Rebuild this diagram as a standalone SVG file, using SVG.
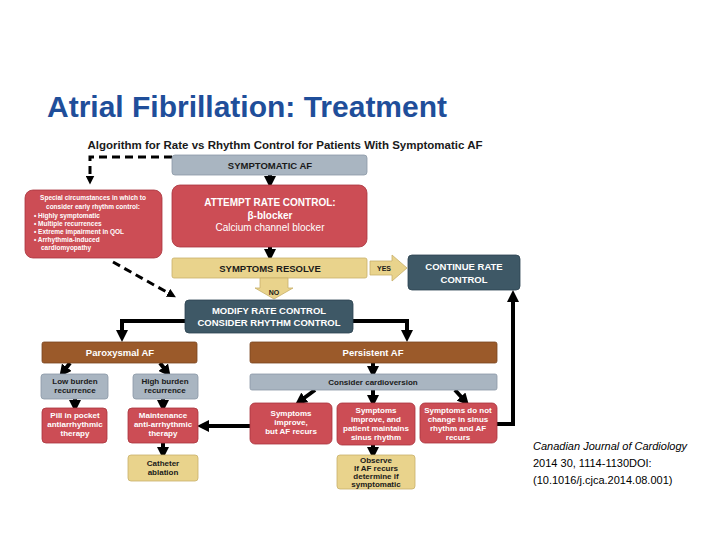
<svg xmlns="http://www.w3.org/2000/svg" width="720" height="540" viewBox="0 0 720 540">
<defs>
<marker id="ah" viewBox="0 0 10 10" refX="5" refY="5" markerWidth="3" markerHeight="3" orient="auto"><path d="M0,0 L10,5 L0,10 z" fill="#000"/></marker>
<style>
text{font-family:"Liberation Sans",Arial,sans-serif;font-weight:bold;text-anchor:middle}
.g{fill:#a9b5c1;stroke:#8a98a6;stroke-width:0.8}
.r{fill:#cc4d55;stroke:#a8343c;stroke-width:0.8}
.y{fill:#e9d38c;stroke:#c8b06a;stroke-width:0.8}
.d{fill:#3e5866;stroke:#2c4250;stroke-width:0.8}
.b{fill:#9b5a2a;stroke:#7a4520;stroke-width:0.8}
.w{fill:#fff}
.k{fill:#1a1a1a}
.s{font-size:8px}
.m{font-size:9.5px}
.ln{stroke:#000;stroke-width:4;fill:none}
.ds{stroke:#000;stroke-width:3;fill:none;stroke-dasharray:8,5}
</style>
</defs>
<rect width="720" height="540" fill="#fff"/>
<text x="47" y="117" style="font-size:30px;text-anchor:start;fill:#1f4e9a">Atrial Fibrillation: Treatment</text>
<text x="285" y="149" style="font-size:11.5px" class="k">Algorithm for Rate vs Rhythm Control for Patients With Symptomatic AF</text>
<g id="connectors">
<path class="ds" d="M172,157 H90 V180" marker-end="url(#ah)"/>
<path class="ds" d="M113,262 L172,295" marker-end="url(#ah)"/>
<path class="ln" d="M270,175 V182" marker-end="url(#ah)"/>
<path class="ln" d="M270,247 V255" marker-end="url(#ah)"/>
<path class="ln" d="M185,321 H122 V336" marker-end="url(#ah)"/>
<path class="ln" d="M353,321 H407 V336" marker-end="url(#ah)"/>
<path class="ln" d="M70,363 L63,372" marker-end="url(#ah)"/>
<path class="ln" d="M160,363 L167,372" marker-end="url(#ah)"/>
<path class="ln" d="M373,363 V372" marker-end="url(#ah)"/>
<path class="ln" d="M75,399 V406" marker-end="url(#ah)"/>
<path class="ln" d="M163,399 V406" marker-end="url(#ah)"/>
<path class="ln" d="M163,443 V453" marker-end="url(#ah)"/>
<path class="ln" d="M315,390 L300,401" marker-end="url(#ah)"/>
<path class="ln" d="M373,390 V401" marker-end="url(#ah)"/>
<path class="ln" d="M455,390 L465,401" marker-end="url(#ah)"/>
<path class="ln" d="M373,445 V453" marker-end="url(#ah)"/>
<path class="ln" d="M250,426 H203" marker-end="url(#ah)"/>
<path class="ln" d="M497,424 H513 V296" marker-end="url(#ah)"/>
</g>
<g id="n-sympaf"><rect class="g" x="172" y="155" width="195" height="20" rx="3"/><text x="270" y="169" class="m" fill="#1a1a1a">SYMPTOMATIC AF</text></g>
<g id="n-attempt"><rect class="r" x="172" y="185" width="195" height="62" rx="8"/><text x="270" y="206" class="w" style="font-size:10px">ATTEMPT RATE CONTROL:</text><text x="270" y="219" class="w" style="font-size:10px">β-blocker</text><text x="270" y="231" class="w" style="font-size:10px;font-weight:normal">Calcium channel blocker</text></g>
<g id="n-special"><rect class="r" x="25" y="190" width="137" height="68" rx="8"/>
<text x="93" y="200" class="w" style="font-size:6.5px">Special circumstances in which to</text>
<text x="93" y="209" class="w" style="font-size:6.5px">consider early rhythm control:</text>
<g style="font-size:6.5px;text-anchor:start" class="w">
<text x="34" y="218" style="text-anchor:start">•  Highly symptomatic</text>
<text x="34" y="226" style="text-anchor:start">•  Multiple recurrences</text>
<text x="34" y="234" style="text-anchor:start">•  Extreme impairment in QOL</text>
<text x="34" y="242" style="text-anchor:start">•  Arrhythmia-induced</text>
<text x="41" y="250" style="text-anchor:start">cardiomyopathy</text></g></g>
<g id="n-resolve"><rect class="y" x="172" y="258" width="195" height="20" rx="2"/><text x="270" y="272" class="m k">SYMPTOMS RESOLVE</text></g>
<g id="n-yes"><path class="y" d="M370,261 H392 V255 L407,268 L392,281 V275 H370 Z"/><text x="384" y="271" class="k" style="font-size:7px">YES</text></g>
<g id="n-continue"><rect class="d" x="408" y="255" width="112" height="35" rx="4"/><text x="464" y="270" class="w m">CONTINUE RATE</text><text x="464" y="283" class="w m">CONTROL</text></g>
<g id="n-no"><path class="y" d="M260,278 H288 V288 H293 L274,299 L255,288 H260 Z"/><text x="274" y="295" class="k" style="font-size:7px">NO</text></g>
<g id="n-modify"><rect class="d" x="185" y="300" width="168" height="33" rx="4"/><text x="269" y="314" class="w m">MODIFY RATE CONTROL</text><text x="269" y="326" class="w m">CONSIDER RHYTHM CONTROL</text></g>
<g id="n-parox"><rect class="b" x="42" y="342" width="155" height="21" rx="2"/><text x="120" y="356" class="w m">Paroxysmal AF</text></g>
<g id="n-persist"><rect class="b" x="250" y="342" width="247" height="21" rx="2"/><text x="373" y="356" class="w m">Persistent AF</text></g>
<g id="n-low"><rect class="g" x="41" y="374" width="67" height="25" rx="3"/><text x="75" y="384" class="k s">Low burden</text><text x="75" y="393" class="k s">recurrence</text></g>
<g id="n-high"><rect class="g" x="133" y="374" width="65" height="25" rx="3"/><text x="165" y="384" class="k s">High burden</text><text x="165" y="393" class="k s">recurrence</text></g>
<g id="n-cardio"><rect class="g" x="250" y="374" width="247" height="16" rx="2"/><text x="373" y="385" class="k s">Consider cardioversion</text></g>
<g id="n-pill"><rect class="r" x="42" y="408" width="65" height="35" rx="4"/><text x="75" y="418" class="w s">Pill in pocket</text><text x="75" y="427" class="w s">antiarrhythmic</text><text x="75" y="436" class="w s">therapy</text></g>
<g id="n-maint"><rect class="r" x="128" y="408" width="70" height="35" rx="4"/><text x="163" y="418" class="w s">Maintenance</text><text x="163" y="427" class="w s">anti-arrhythmic</text><text x="163" y="436" class="w s">therapy</text></g>
<g id="n-cath"><rect class="y" x="128" y="455" width="70" height="26" rx="3"/><text x="163" y="466" class="k s">Catheter</text><text x="163" y="475" class="k s">ablation</text></g>
<g id="n-recur"><rect class="r" x="250" y="403" width="82" height="41" rx="5"/><text x="291" y="416" class="w s">Symptoms</text><text x="291" y="425" class="w s">improve,</text><text x="291" y="434" class="w s">but AF recurs</text></g>
<g id="n-sinus"><rect class="r" x="337" y="403" width="78" height="42" rx="5"/><text x="376" y="413" class="w s">Symptoms</text><text x="376" y="422" class="w s">improve, and</text><text x="376" y="431" class="w s">patient maintains</text><text x="376" y="440" class="w s">sinus rhythm</text></g>
<g id="n-nochange"><rect class="r" x="420" y="403" width="77" height="40" rx="5"/><text x="458" y="413" class="w s">Symptoms do not</text><text x="458" y="422" class="w s">change in sinus</text><text x="458" y="431" class="w s">rhythm and AF</text><text x="458" y="440" class="w s">recurs</text></g>
<g id="n-observe"><rect class="y" x="337" y="455" width="78" height="34" rx="3"/><text x="376" y="463" class="k s">Observe</text><text x="376" y="471" class="k s">If AF recurs</text><text x="376" y="479" class="k s">determine if</text><text x="376" y="487" class="k s">symptomatic</text></g>
<g style="font-size:11px;font-weight:normal;text-anchor:start" fill="#000">
<text x="533" y="450" style="font-weight:normal;text-anchor:start;font-style:italic">Canadian Journal of Cardiology</text>
<text x="533" y="467" style="font-weight:normal;text-anchor:start">2014 30, 1114-1130DOI:</text>
<text x="533" y="484" style="font-weight:normal;text-anchor:start">(10.1016/j.cjca.2014.08.001)</text>
</g>
</svg>
